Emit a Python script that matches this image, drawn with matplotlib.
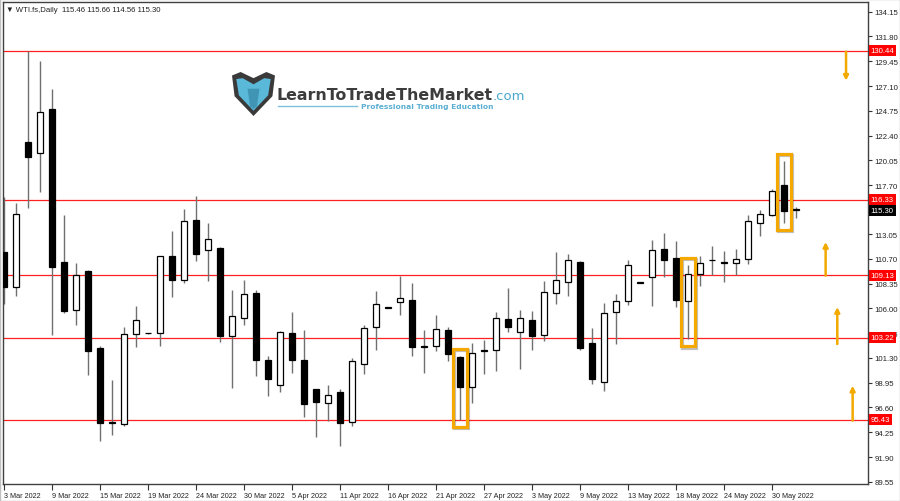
import matplotlib
matplotlib.use('Agg')
import matplotlib.pyplot as plt
import matplotlib.transforms as mtransforms
from matplotlib.patches import Rectangle, Polygon
import matplotlib.patheffects as pe

# WTI daily candles
symbol = 'WTI.fs,Daily'
opens = [111.32, 108.00, 121.76, 120.72, 124.92, 110.43, 105.82, 109.58, 102.24, 95.20,
         95.00, 103.60, 103.62, 103.64, 110.94, 108.69, 114.42, 111.54, 111.70, 103.41,
         105.06, 107.43, 101.10, 98.76, 103.67, 101.10, 98.32, 97.00, 98.10, 95.19,
         100.72, 104.21, 106.08, 106.64, 106.84, 102.42, 102.43, 103.95, 101.39, 98.57,
         102.01, 102.03, 104.99, 103.79, 104.93, 103.50, 107.49, 108.48, 110.43, 102.69,
         98.99, 105.63, 106.70, 108.42, 108.95, 111.64, 110.78, 106.70, 109.24, 110.62,
         110.40, 110.28, 110.66, 114.13, 114.83, 117.71, 115.46]
highs = [116.54, 115.97, 130.45, 129.44, 126.82, 114.86, 110.28, 109.65, 102.46, 99.21,
         104.21, 106.20, 103.70, 110.99, 113.34, 115.40, 116.64, 114.13, 111.80, 107.77,
         108.72, 107.77, 101.51, 103.88, 105.63, 103.95, 98.40, 98.76, 98.35, 101.29,
         104.42, 107.62, 106.15, 109.10, 108.38, 103.95, 105.37, 104.21, 101.45, 102.72,
         102.97, 105.66, 107.94, 105.88, 105.78, 108.57, 111.32, 111.13, 110.50, 104.17,
         106.48, 107.37, 110.62, 108.48, 112.49, 113.18, 112.37, 110.12, 110.99, 111.89,
         111.42, 111.64, 114.86, 115.36, 117.33, 119.98, 115.66]
lows = [106.42, 107.21, 115.53, 117.07, 103.50, 105.56, 104.42, 99.71, 93.45, 94.02,
        94.81, 102.31, 103.58, 102.46, 107.05, 108.38, 110.53, 108.63, 102.84, 98.45,
        104.45, 99.61, 97.72, 98.04, 99.87, 95.67, 93.77, 95.29, 92.92, 94.81,
        99.78, 102.05, 106.05, 105.40, 101.51, 99.84, 101.96, 100.98, 95.45, 97.00,
        99.78, 100.09, 103.73, 100.25, 102.08, 102.94, 106.42, 107.21, 102.08, 98.83,
        98.13, 102.65, 106.32, 108.40, 106.26, 108.95, 106.10, 103.10, 108.15, 109.17,
        108.53, 109.17, 110.24, 112.84, 114.80, 114.13, 114.56]
closes = [108.06, 114.98, 120.39, 124.66, 109.96, 105.78, 109.14, 101.93, 95.10, 95.12,
          103.60, 104.93, 103.66, 110.94, 108.69, 114.26, 111.16, 112.56, 103.35, 105.25,
          107.34, 101.13, 99.30, 103.73, 101.13, 96.93, 97.09, 97.81, 95.13, 100.98,
          104.14, 106.42, 106.12, 106.96, 102.34, 102.38, 104.02, 101.67, 98.51, 101.74,
          101.99, 105.06, 104.21, 105.06, 103.41, 107.53, 108.67, 110.56, 102.24, 99.30,
          105.59, 106.67, 110.09, 108.46, 111.51, 110.62, 106.77, 109.29, 110.28, 110.57,
          110.35, 110.72, 114.26, 114.96, 117.11, 115.27, 115.30]

date_labels = ['3 Mar 2022', '9 Mar 2022', '15 Mar 2022', '19 Mar 2022', '24 Mar 2022',
               '30 Mar 2022', '5 Apr 2022', '11 Apr 2022', '16 Apr 2022', '21 Apr 2022',
               '27 Apr 2022', '3 May 2022', '9 May 2022', '13 May 2022', '18 May 2022',
               '24 May 2022', '30 May 2022']
label_step = 4

price_ticks = [134.15, 131.80, 129.45, 127.10, 124.75, 122.40, 120.05, 117.70, 115.35,
               113.05, 110.70, 108.35, 106.00, 103.65, 101.30, 98.95, 96.60, 94.25,
               91.90, 89.55]

levels = [130.44, 116.33, 109.13, 103.22, 95.43]
last_price = 115.30
boxed_bars = [38, 57, 65]

# orange arrows: bar position, start price, end price
arrow_x = [70.17, 68.47, 69.44, 70.72]
arrow_from = [130.36, 109.10, 102.62, 95.35]
arrow_to = [127.60, 112.30, 106.13, 98.67]

n = len(opens)
xs = list(range(n))

fig = plt.figure(figsize=(9, 5.02), dpi=100)
ax = fig.add_axes([2.7 / 900, 1 - 485 / 502, (868 - 2.7) / 900, (485 - 2.7) / 502])
ax.set_xlim(-0.11, 72.0)
ax.set_ylim(89.34, 135.10)

# level lines
for lvl in levels:
    ax.axhline(lvl, color='#ff2020', lw=0.9, zorder=1)

# wicks
ax.vlines(xs, lows, highs, color='#707070', lw=1.0, zorder=2)

# bodies
bottoms = [min(o, c) for o, c in zip(opens, closes)]
heights = [max(abs(c - o), 0.03) for o, c in zip(opens, closes)]
colors = ['white' if c > o else 'black' for o, c in zip(opens, closes)]
ax.bar(xs, heights, bottom=bottoms, width=0.58, color=colors, edgecolor='black',
       linewidth=0.9, zorder=3)

# orange highlight boxes
for b in boxed_bars:
    rect = Rectangle((b - 0.58, lows[b] - 0.7), 1.16, highs[b] - lows[b] + 1.4,
                     fill=False, ec='#f5a800', lw=2.3, zorder=4,
                     path_effects=[pe.SimpleLineShadow(offset=(1, -1), alpha=0.25),
                                   pe.Normal()])
    ax.add_patch(rect)

for x0, p0, p1 in zip(arrow_x, arrow_from, arrow_to):
    ax.annotate('', xy=(x0, p1), xytext=(x0, p0),
                arrowprops=dict(arrowstyle='-|>', color='#f2a900', lw=1.8,
                                mutation_scale=7, shrinkA=0, shrinkB=0), zorder=4)

# axes styling
for s in ax.spines.values():
    s.set_color('#404040')
    s.set_linewidth(1.0)

ax.yaxis.tick_right()
ax.set_yticks(price_ticks)
# the 115.35 label sits fully under the current-price tag
ax.set_yticklabels(['' if abs(p - 115.35) < 0.01 else f'{p:.2f}' for p in price_ticks])
ax.tick_params(axis='y', direction='out', length=3, pad=1.5, labelsize=5.6,
               colors='#333333', labelcolor='#222222')

ax.set_xticks(xs[::label_step])
ax.set_xticklabels(date_labels, ha='left')
ax.tick_params(axis='x', direction='out', length=4, pad=1.5, labelsize=5.2,
               colors='#333333', labelcolor='#222222')
for lab in ax.get_xticklabels() + ax.get_yticklabels():
    lab.set_family('Liberation Sans')

# right-hand price tags
trans = mtransforms.blended_transform_factory(ax.transAxes, ax.transData)
for lvl in levels:
    ax.text(1.003, lvl, f'{lvl:.2f}', transform=trans, ha='left', va='center',
            fontsize=5.6, color='white', family='Liberation Sans', clip_on=False,
            zorder=10, bbox=dict(boxstyle='square,pad=0.25', fc='#ff0000', ec='none'))
ax.text(1.003, last_price, f'{last_price:.2f}', transform=trans, ha='left', va='center',
        fontsize=5.6, color='white', family='Liberation Sans', clip_on=False,
        zorder=10, bbox=dict(boxstyle='square,pad=0.25', fc='black', ec='none'))

# header
fig.text(6 / 900, 1 - 10 / 502,
         f'\u25bc {symbol}  {opens[-1]:.2f} {highs[-1]:.2f} {lows[-1]:.2f} {closes[-1]:.2f}',
         fontsize=5.6, color='#222222', va='center', family=['Liberation Sans', 'DejaVu Sans'])

# logo
r = fig.canvas.get_renderer()
t = fig.text(276 / 900, 1 - 99.5 / 502, 'LearnToTradeTheMarket', fontsize=12.5,
             fontweight='bold', color='#3c3c3c', va='baseline', family='DejaVu Sans')
w = t.get_window_extent(r).width
t.set_fontsize(12.5 * 216 / w)
fig.text(493 / 900, 1 - 99.5 / 502, '.com', fontsize=9.5, color='#4aa6cc',
         va='baseline', family='DejaVu Sans')
t2 = fig.text(361 / 900, 1 - 107 / 502, 'Professional Trading Education', fontsize=6.5,
              fontweight='bold', color='#5aaed2', va='center', family='DejaVu Sans')
w2 = t2.get_window_extent(r).width
t2.set_fontsize(6.5 * 131 / w2)
fig.add_artist(plt.Line2D([278 / 900, 357 / 900], [1 - 106.7 / 502, 1 - 106.7 / 502],
                          color='#7fc0dc', lw=1.0, transform=fig.transFigure))

lax = fig.add_axes([232 / 900, 1 - 117 / 502, 43 / 900, 44 / 502])
lax.set_xlim(0, 1)
lax.set_ylim(0, 1)
lax.axis('off')
outer = [(0.0, 0.92), (0.2, 1.0), (0.5, 0.86), (0.8, 1.0), (1.0, 0.92),
         (0.94, 0.45), (0.5, 0.0), (0.06, 0.45)]
inner = [(0.1, 0.84), (0.25, 0.86), (0.5, 0.72), (0.75, 0.86), (0.9, 0.84),
         (0.84, 0.47), (0.5, 0.12), (0.16, 0.47)]
lax.add_patch(Polygon(outer, closed=True, fc='#3a3a3a', ec='none'))
lax.add_patch(Polygon(inner, closed=True, fc='#5ab8d8', ec='none'))
lax.add_patch(Polygon([(0.36, 0.62), (0.64, 0.62), (0.58, 0.22), (0.5, 0.16), (0.42, 0.22)],
                      closed=True, fc='#2f7f9e', ec='none', alpha=0.6))

fig.patches.append(Rectangle((0, 0), 1, 1, transform=fig.transFigure, fill=False,
                             ec='#c0c0c0', lw=1.0))

fig.savefig('out.png', dpi=100)
